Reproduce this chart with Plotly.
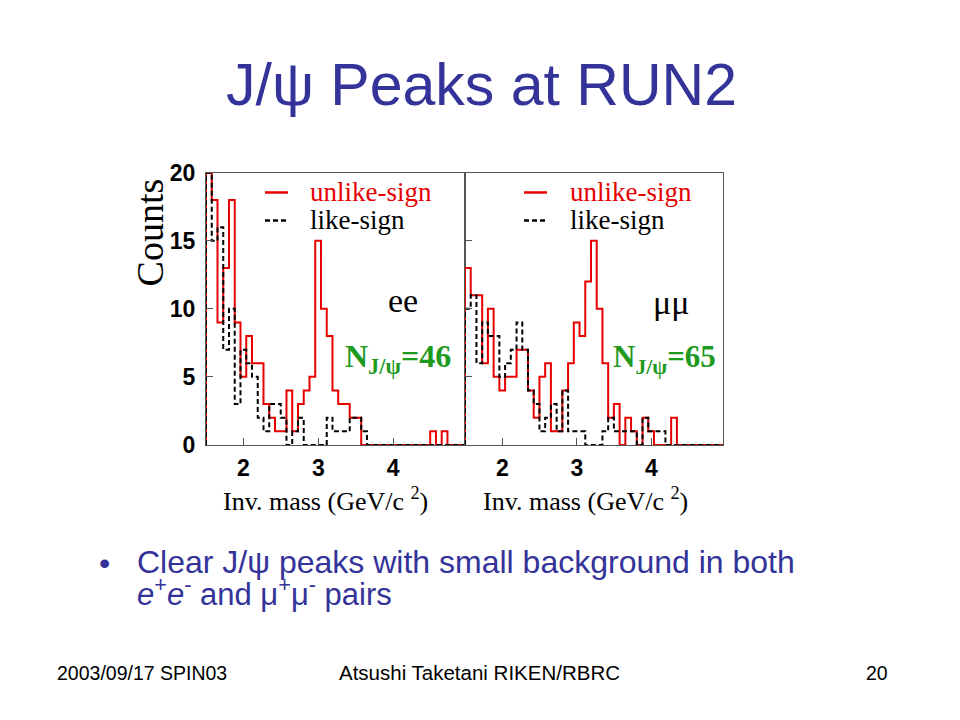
import plotly.graph_objects as go

# ---------------- data ----------------
bin_start = 1.5
bin_width = 0.0768
x_range = [1.5, 4.96]
x_ticks = [2, 3, 4]
y_ticks = [0, 5, 10, 15, 20]

ee_unlike = [20, 18, 9, 13, 18, 9, 5, 8, 6, 6, 3, 2, 1, 1, 4, 1, 3, 4, 5, 15,
             10, 8, 4, 3, 3, 2, 2, 0, 0, 0, 0, 0, 0, 0, 0, 0, 0, 0, 0, 1,
             0, 1, 0, 0, 0]
ee_like = [20, 15, 16, 7, 10, 3, 7, 6, 5, 2, 1, 3, 3, 2, 0, 1, 2, 0, 0, 0,
           0, 2, 1, 1, 1, 2, 2, 1, 0, 0, 0, 0, 0, 0, 0, 0, 0, 0, 0, 0,
           0, 0, 0, 0, 0]
mm_unlike = [13, 11, 11, 6, 10, 5, 4, 5, 5, 7, 7, 4, 2, 5, 6, 1, 1, 4, 6, 9,
             8, 12, 15, 10, 6, 2, 3, 0, 2, 1, 0, 2, 1, 0, 0, 0, 2, 0, 0, 0,
             0, 0, 0, 0, 0]
mm_like = [10, 11, 6, 9, 8, 8, 5, 6, 7, 9, 7, 4, 3, 1, 2, 3, 1, 4, 1, 1,
           1, 0, 0, 0, 1, 2, 1, 1, 1, 1, 0, 2, 1, 1, 1, 0, 0, 0, 0, 0,
           0, 0, 0, 0, 0]

n_ee = 46
n_mm = 65

RED = "#e60000"
BLACK = "#000000"
GREEN = "#1e9a1e"
BLUE = "#333399"
SERIF = "Liberation Serif"
SANS = "Liberation Sans"
DASH = "5px,3px"


def outline(counts):
    edges = [bin_start + i * bin_width for i in range(len(counts) + 1)]
    xs = [edges[0]] + edges
    ys = [0] + list(counts) + [counts[-1]]
    return xs, ys


fig = go.Figure()

panels = [
    ("x", "y", ee_unlike, ee_like),
    ("x2", "y2", mm_unlike, mm_like),
]
for xa, ya, unlike, like in panels:
    xs, ys = outline(unlike)
    fig.add_trace(go.Scatter(x=xs, y=ys, mode="lines", line=dict(color=RED, width=2, shape="hv"),
                             name="unlike-sign", xaxis=xa, yaxis=ya, cliponaxis=False,
                             showlegend=False))
    xs, ys = outline(like)
    fig.add_trace(go.Scatter(x=xs, y=ys, mode="lines",
                             line=dict(color=BLACK, width=2, shape="hv", dash=DASH),
                             name="like-sign", xaxis=xa, yaxis=ya, cliponaxis=False,
                             showlegend=False))

# Figure kept inside the window (page body margin); layout positions are
# given in window pixels and mapped to paper coordinates.
W, H = 940, 700
XOFF = 8
YOFF = 20
YSCALE = 0.963


def px(x):
    return (x - XOFF) / W


def py(y):
    return 1 - ((y - YOFF) / YSCALE) / H


axis_common = dict(showline=True, mirror=True, linecolor="#555555", linewidth=1,
                   ticks="inside", ticklen=7, tickcolor="#555555", showgrid=False,
                   zeroline=False)
tickfont = dict(family=SANS, size=23, color="black", weight="bold")

fig.update_layout(
    width=W, height=H, margin=dict(l=0, r=0, t=0, b=0),
    paper_bgcolor="white", plot_bgcolor="white",
    xaxis=dict(domain=[px(206), px(465)], range=x_range, tickvals=x_ticks,
               tickfont=tickfont, ticklabelstandoff=2, anchor="y", **axis_common),
    yaxis=dict(domain=[py(444), py(171.7)], range=[0, 20], tickvals=y_ticks,
               tickfont=tickfont, ticklabelstandoff=5, anchor="x", **axis_common),
    xaxis2=dict(domain=[px(465), px(723)], range=x_range, tickvals=x_ticks,
                tickfont=tickfont, ticklabelstandoff=2, anchor="y2", **axis_common),
    yaxis2=dict(domain=[py(444), py(171.7)], range=[0, 20], tickvals=y_ticks,
                showticklabels=False, anchor="x2", **axis_common),
    showlegend=False,
)

ann = []
shapes = []


def text(x, y, s, size, color="black", family=SANS, xanchor="center", angle=0):
    ann.append(dict(x=px(x), y=py(y), xref="paper", yref="paper", showarrow=False,
                    xanchor=xanchor, yanchor="middle", text=s, textangle=angle,
                    font=dict(family=family, size=size, color=color)))


# Title
text(481, 84, "J/ψ Peaks at RUN2", 59, BLUE)
# Counts
text(149.5, 232, "Counts", 38, family=SERIF, angle=-90)
# x titles
text(325, 499, "Inv. mass (GeV/c <sup>2</sup>)", 26, family=SERIF)
text(585, 499, "Inv. mass (GeV/c <sup>2</sup>)", 26, family=SERIF)
# legends (drawn by hand, one per panel)
for lx0, tx in ((265, 308), (524, 568)):
    shapes.append(dict(type="line", xref="paper", yref="paper",
                       x0=px(lx0), x1=px(lx0 + 23), y0=py(191.5), y1=py(191.5),
                       line=dict(color=RED, width=2.5)))
    shapes.append(dict(type="line", xref="paper", yref="paper",
                       x0=px(lx0), x1=px(lx0 + 22), y0=py(219.5), y1=py(219.5),
                       line=dict(color=BLACK, width=2.5, dash=DASH)))
    text(tx, 191.5, "unlike-sign", 27, RED, SERIF, "left")
    text(tx, 219.5, "like-sign", 27, "black", SERIF, "left")
# channel labels
text(403, 300, "ee", 34, family=SERIF)
text(671, 302, "μμ", 34, family=SERIF)
# N J/psi
text(343, 358, "<b>N<sub>J/ψ</sub>=%d</b>" % n_ee, 32, GREEN, SERIF, "left")
text(611, 358, "<b>N<sub>J/ψ</sub>=%d</b>" % n_mm, 31, GREEN, SERIF, "left")
# bullet text
text(104, 562, "•", 32, BLUE)
text(135, 561, "Clear J/ψ peaks with small background in both", 32, BLUE, SANS, "left")
text(135, 591, "<i>e</i><sup>+</sup><i>e</i><sup>-</sup> and μ<sup>+</sup>μ<sup>-</sup> pairs",
     31, BLUE, SANS, "left")
# footer
text(55, 672, "2003/09/17 SPIN03", 19.5, "black", SANS, "left")
text(480, 672, "Atsushi Taketani RIKEN/RBRC", 20.5)
text(890, 672, "20", 19.5, "black", SANS, "right")

fig.update_layout(annotations=ann, shapes=shapes)

fig.write_html("out.html")
